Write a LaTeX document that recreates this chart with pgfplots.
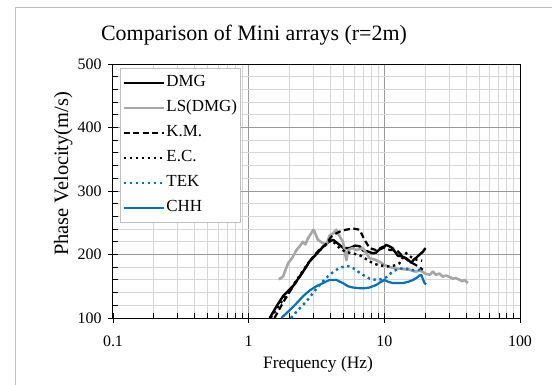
\documentclass[border=0pt]{standalone}
\usepackage{pgfplots}
\pgfplotsset{compat=1.18}
\usepackage{fontspec}
\setmainfont{Liberation Serif}
\definecolor{xblue}{RGB}{0,112,192}
\definecolor{xgray}{RGB}{166,166,166}
\begin{document}
\begin{tikzpicture}
\useasboundingbox (0,0) rectangle (552bp,-385bp);
\fill[white] (0,0) rectangle (552bp,-385bp);
\draw[black!25, line width=1bp] (15bp,-385bp) -- (15bp,-7bp) -- (552bp,-7bp);
\node[font=\fontsize{22}{24}\selectfont, anchor=base, inner sep=0pt] at (254bp,-40bp) {Comparison of Mini arrays (r=2m)};
\node[font=\fontsize{17.5}{19}\selectfont, anchor=base, inner sep=0pt] at (318bp,-368bp) {Frequency (Hz)};
\node[font=\fontsize{20.5}{22}\selectfont, anchor=base, inner sep=0pt, rotate=90] at (68bp,-174bp) {Phase Velocity(m/s)};
\begin{axis}[
 at={(113bp,-318bp)}, anchor=south west,
 scale only axis, width=407bp, height=254bp,
 xmode=log, xmin=0.1, xmax=100, ymin=100, ymax=500,
 xtick={0.1,1,10,100}, xticklabels={0.1,1,10,100},
 ytick={100,200,300,400,500},
 minor y tick num=4,
 grid=both,
 major grid style={draw=black!40, line width=1bp},
 minor grid style={draw=black!16, line width=1bp},
 axis line style={black, line width=1bp},
 tick style={black, line width=0.9bp},
 tick align=inside, major tick length=5bp, minor tick length=5bp,
 xtick pos=left, ytick pos=left,
 extra x ticks={0.1,1,10,100}, extra x tick labels={},
 extra x tick style={tick align=outside, grid=none},
 extra y ticks={100,200,300,400,500}, extra y tick labels={},
 extra y tick style={tick align=outside, grid=none},
 ticklabel style={font=\fontsize{16}{18}\selectfont},
 xticklabel style={anchor=base, yshift=-28bp},
 yticklabel style={anchor=east, xshift=-8bp},
 /pgf/number format/assume math mode=true,
 legend cell align=left,
 legend image code/.code={\draw[#1] (0bp,0bp) -- (40bp,0bp);},
 legend style={at={(0.017,0.984)}, anchor=north west, draw=black!25, fill=white,
   line width=0.8bp, font=\fontsize{17}{19}\selectfont, inner xsep=2bp, inner ysep=2bp,
   row sep=0bp,
   nodes={inner xsep=1.5bp, inner ysep=3.5bp, text height=13bp, text depth=5bp}},
]
\addplot[black, line width=2.4bp, line join=round] coordinates {
(1.43,100) (1.6,118) (1.8,135) (2.12,150) (2.5,172) (2.81,189) (3.2,202) (3.53,212)
(3.9,220) (4.2,223) (4.5,218) (4.68,215) (5.0,210) (5.55,210) (6.1,214) (6.57,213)
(7.0,206) (7.5,205) (8.2,202) (8.7,203) (9.2,208) (9.7,210) (10.3,215) (10.9,213)
(11.5,210) (12.0,204) (12.6,198) (13.5,197) (14.5,194) (15.3,190) (15.8,187)
(16.5,192) (17.2,195) (18.2,200) (19.2,204) (20.1,210)};
\addlegendentry{DMG}
\addplot[xgray, line width=2.6bp, line join=round] coordinates {
(1.67,161) (1.79,165) (1.95,186) (2.1,195) (2.25,207) (2.4,214) (2.51,220) (2.62,216)
(2.73,225) (3.0,239) (3.06,236) (3.24,223) (3.53,218) (3.74,215) (3.95,230) (4.18,233)
(4.42,239) (4.7,228) (4.95,220) (5.25,191) (5.4,207) (5.8,210) (6.2,207) (6.96,210)
(7.8,194) (8.5,192) (9.3,188) (10.2,183) (11.0,180) (12.3,178) (13.5,177) (15.3,176)
(17.0,173) (18.5,175) (20.0,170) (21.6,168) (22.8,173) (24,168) (25.5,170) (27,165)
(28.5,167) (30,165) (32,162) (33.5,163) (36,160) (37.5,158) (39,160) (41.3,155)};
\addlegendentry{LS(DMG)}
\addplot[black, line width=2.2bp, dash pattern=on 6bp off 3.5bp] coordinates {
(1.55,100) (1.8,125) (2.1,148) (2.5,172) (2.9,193) (3.3,207) (3.7,216) (4.07,228)
(4.4,233) (4.68,236) (5.2,239) (5.87,241) (6.57,239) (7.15,223) (7.8,210) (8.7,207)
(9.75,212) (11.0,207) (12.3,207) (13.7,197) (15.3,189) (17.2,183) (18.7,178) (19.2,176)};
\addlegendentry{K.M.}
\addplot[black, line width=2.4bp, dash pattern=on 2.4bp off 3.6bp] coordinates {
(1.45,100) (1.7,122) (2.0,143) (2.4,168) (2.8,189) (3.2,203) (3.6,213) (3.95,222)
(4.3,218) (4.68,210) (5.2,204) (5.8,202) (6.57,199) (7.2,194) (7.8,189) (8.5,185)
(9.2,183) (10.0,182) (10.9,181) (12.0,183) (12.9,186) (13.7,195) (14.5,202) (15.3,198)
(16.2,194) (17.2,192) (18.0,191) (19.0,190)};
\addlegendentry{E.C.}
\addplot[xblue, line width=2.4bp, dash pattern=on 2.4bp off 3.6bp] coordinates {
(2.05,100) (2.3,112) (2.66,126) (3.0,140) (3.24,149) (3.6,160) (3.95,168) (4.3,174)
(4.68,179) (5.25,182) (5.6,181) (6.2,176) (6.57,171) (7.35,165) (7.8,162) (8.7,160)
(9.5,161) (10.3,164) (11.0,169) (11.5,173) (12.9,178) (14.0,178) (15.3,177) (16.5,175)
(18.2,176) (19.0,175)};
\addlegendentry{TEK}
\addplot[xblue, line width=2.2bp, line join=round] coordinates {
(1.74,100) (2.0,112) (2.25,123) (2.51,134) (2.8,143) (3.15,150) (3.53,155) (3.95,160)
(4.42,160) (4.95,155) (5.4,150) (5.87,148) (6.5,147) (7.2,147) (7.8,148) (8.7,152)
(9.3,156) (9.99,160) (10.7,157) (11.5,155) (12.5,155) (13.7,155) (15.0,157) (16.3,160)
(17.5,164) (18.2,167) (18.7,168) (19.2,162) (19.8,155) (20.3,153)};
\addlegendentry{CHH}
\end{axis}
\end{tikzpicture}
\end{document}
